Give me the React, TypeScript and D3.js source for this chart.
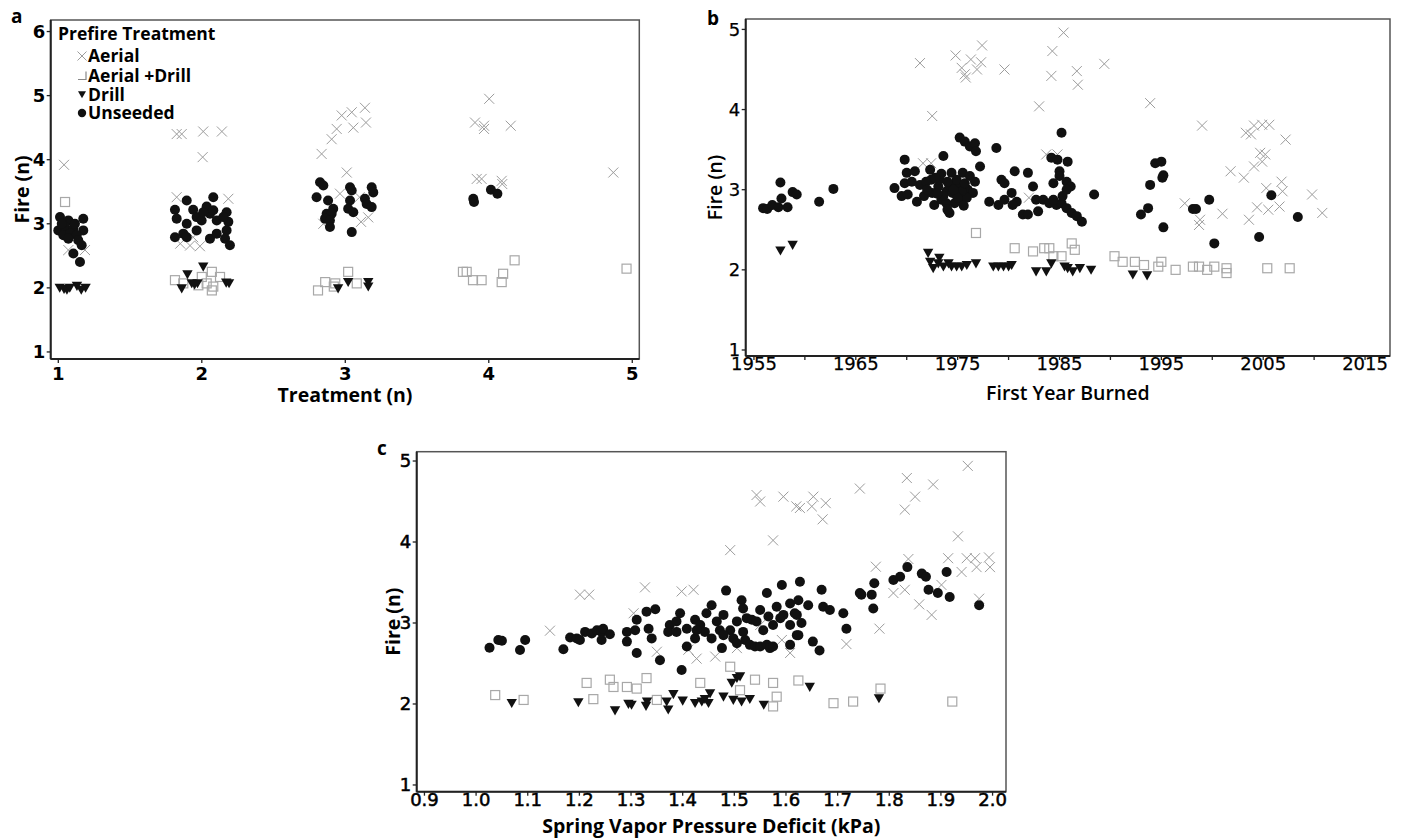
import React from 'react';
import * as d3 from 'd3';

type P = [number, number];

// ---------------- Panel a : Treatment (n) ----------------
const aAerial: P[] = [
  [1.04,3.92],[1.07,2.59],[1.186,2.59],
  [1.825,4.40],[1.86,4.40],[2.01,4.44],[2.14,4.44],[2.006,4.04],[1.825,3.415],[2.185,3.39],[1.85,2.69],[1.918,2.66],[1.987,2.65],[1.94,2.79],
  [2.835,4.09],[2.905,4.32],[2.94,4.48],[2.975,4.69],[3.045,4.74],[3.056,4.50],[3.137,4.81],[3.144,4.58],[3.01,3.80],[2.963,3.47],[3.10,3.415],[3.11,3.03],[3.16,3.10],[2.847,3.0],
  [4.003,4.95],[3.904,4.58],[3.967,4.53],[3.967,4.48],[4.153,4.53],[3.916,3.70],[3.95,3.70],[4.09,3.67],[4.094,3.62],
  [4.868,3.80],
];
const aAerialDrill: P[] = [
  [1.047,3.34],
  [1.813,2.12],[1.871,2.07],[2.0,2.17],[2.07,2.25],[2.034,2.07],[2.08,2.02],[2.07,1.96],[1.976,2.04],[2.127,2.17],
  [2.81,1.96],[2.86,2.09],[2.93,2.07],[3.02,2.25],[3.08,2.07],[2.92,2.02],
  [3.82,2.25],[3.846,2.25],[3.95,2.12],[4.10,2.22],[4.09,2.09],[4.18,2.43],[3.89,2.12],
  [4.96,2.30],
];
const aDrill: P[] = [
  [1.01,2.0],[1.04,1.98],[1.06,1.97],[1.08,2.0],[1.13,2.03],[1.16,1.97],[1.19,2.0],
  [1.90,2.21],[2.01,2.33],[1.86,1.99],[1.93,2.07],[1.97,2.07],[2.17,2.08],[2.19,2.07],[1.95,2.05],
  [2.95,1.99],[3.02,2.09],[3.16,2.09],[3.16,2.02],
];
const aUnseeded: P[] = [
  [1.012,3.104],[1.174,3.079],[1.07,3.053],[1.0,2.897],[1.047,2.949],[1.105,2.924],[1.174,2.897],[1.035,2.82],[1.082,2.846],[1.128,2.82],[1.07,2.768],[1.139,2.742],[1.163,2.664],[1.105,2.535],[1.151,2.404],[1.024,3.0],[1.116,3.0],
  [1.895,3.364],[2.08,3.415],[1.813,3.22],[1.94,3.22],[2.034,3.27],[1.825,3.08],[1.964,3.104],[2.057,3.157],[2.173,3.18],[1.895,3.0],[1.999,3.05],[2.104,3.05],[2.185,3.03],[1.871,2.846],[1.964,2.897],[2.173,2.897],[1.813,2.79],[1.895,2.79],[2.057,2.768],[2.104,2.846],[2.162,2.768],[2.196,2.664],[2.15,3.104],[2.01,3.18],[2.08,3.21],
  [2.824,3.649],[2.847,3.597],[3.033,3.571],[3.045,3.52],[3.184,3.571],[3.195,3.49],[2.80,3.415],[2.88,3.364],[3.033,3.364],[3.137,3.39],[3.149,3.31],[3.184,3.26],[2.916,3.235],[3.02,3.235],[2.87,3.157],[2.905,3.157],[3.056,3.18],[2.859,3.08],[2.893,3.05],[2.893,2.95],[3.045,2.87],
  [3.892,3.39],[3.897,3.34],[4.015,3.53],[4.06,3.47],
];
const aXTicks = [1, 2, 3, 4, 5];
const aYTicks = [1, 2, 3, 4, 5, 6];
const legendTitle = 'Prefire Treatment';
const legendLabels = ['Aerial', 'Aerial +Drill', 'Drill', 'Unseeded'];

// ---------------- Panel b : First Year Burned ----------------
const bAerial: P[] = [
  [1971.3,4.58],[1974.8,4.675],[1975.4,4.52],[1975.7,4.44],[1975.8,4.40],[1976.3,4.625],[1976.9,4.50],[1977.3,4.59],[1977.4,4.80],[1979.6,4.50],[1972.5,3.92],[1971.6,3.33],[1972.4,3.33],
  [1985.4,4.96],[1984.3,4.73],[1984.2,4.42],[1986.7,4.48],[1986.8,4.31],[1989.4,4.57],[1983.0,4.04],[1993.9,4.08],[1999.0,3.80],[2003.3,3.71],[2003.8,3.69],[2004.1,3.80],[2004.9,3.81],[2005.6,3.81],[2007.2,3.625],[2004.7,3.46],[2005.2,3.44],[2004.9,3.35],[2004.1,3.29],[2001.8,3.23],[2003.1,3.15],[2005.3,3.02],[2006.8,3.10],[2006.9,2.98],[2009.8,2.94],[2010.8,2.71],[2006.6,2.79],[2005.5,2.75],[2004.4,2.78],[2003.6,2.625],[2001.0,2.70],[1998.8,2.625],[1998.7,2.56],[1997.3,2.83],[1983.7,3.44],[1984.8,3.44],[1982.0,2.90],
];
const bAerialDrill: P[] = [
  [1976.8,2.46],[1980.6,2.27],[1982.4,2.23],[1983.5,2.27],[1984.0,2.27],[1984.4,2.17],[1985.2,2.17],[1986.2,2.33],[1986.5,2.25],[1990.4,2.17],[1991.2,2.10],[1992.4,2.10],[1993.3,2.06],[1995.0,2.10],[1994.7,2.04],[1996.4,2.0],[1998.1,2.04],[1998.7,2.04],[1999.5,2.0],[2000.2,2.04],[2001.4,2.02],[2001.4,1.96],[2005.4,2.02],[2007.6,2.02],
];
const bDrill: P[] = [
  [1957.6,2.24],[1958.8,2.31],
  [1972.1,2.21],[1972.3,2.10],[1972.6,2.02],[1973.1,2.08],[1973.2,2.15],[1973.6,2.04],[1974.1,2.08],[1974.4,2.04],[1974.9,2.04],[1975.4,2.04],[1975.9,2.06],[1976.8,2.08],[1978.5,2.04],[1979.0,2.04],[1979.5,2.04],[1980.0,2.04],[1980.3,2.06],[1982.7,1.98],[1983.7,1.98],[1984.2,2.08],[1985.5,2.04],[1985.8,2.02],[1986.3,1.98],[1987.0,2.02],[1988.1,2.0],[1992.2,1.94],[1993.6,1.93],
];
const bUnseeded: P[] = [
  [1955.9,2.77],[1956.3,2.76],[1956.8,2.81],[1957.4,2.78],[1957.7,2.89],[1957.6,3.09],[1958.3,2.78],[1958.8,2.97],[1959.2,2.94],[1961.4,2.85],[1962.8,3.01],
  [1968.8,3.02],[1969.8,3.375],[1970.0,3.21],[1970.8,3.23],[1969.8,3.08],[1969.5,2.92],[1970.1,2.94],[1971.3,3.06],[1971.7,2.92],[1972.3,3.25],[1972.4,3.125],[1973.6,3.42],[1973.1,3.04],[1972.7,2.81],[1973.4,2.875],[1973.9,2.98],[1974.4,3.21],[1974.2,2.71],[1974.7,2.83],[1975.2,2.875],[1975.0,3.04],[1975.5,3.21],[1975.2,3.65],[1975.7,3.60],[1976.2,3.54],[1976.7,3.58],[1976.8,3.48],[1977.2,3.29],[1976.2,3.17],[1976.0,3.0],[1976.7,3.10],[1976.5,2.96],[1975.9,2.90],[1978.8,3.52],[1973.2,3.125],[1973.9,2.83],[1974.5,2.96],[1972.5,2.96],[1971.9,3.10],[1974.2,3.06],[1974.9,3.125],[1973.6,2.92],[1975.4,2.98],[1975.7,3.08],
  [1972.0,3.0],[1973.0,2.95],[1974.0,3.1],[1975.0,2.9],[1974.6,3.0],[1973.4,3.2],[1974.0,2.75],[1972.8,3.15],[1975.6,2.8],[1971.0,2.85],[1970.5,3.1],
  [1978.1,2.85],[1979.0,2.81],[1979.6,2.875],[1979.3,3.125],[1979.6,3.08],[1980.6,3.23],[1980.3,2.96],[1980.8,2.85],[1980.4,2.81],[1981.4,2.69],[1981.9,2.69],[1981.9,3.21],[1982.4,3.04],[1982.7,2.875],[1982.9,2.73],[1983.4,2.875],[1984.0,2.83],[1984.7,2.81],[1985.2,2.83],[1985.7,2.77],[1986.2,2.71],[1986.7,2.67],[1987.2,2.60],[1984.4,2.875],[1985.2,3.71],[1984.2,3.40],[1984.8,3.375],[1985.8,3.35],[1985.0,3.23],[1985.0,3.17],[1984.4,3.08],[1985.7,3.10],[1986.1,3.04],[1985.7,3.0],[1988.4,2.94],[1985.3,2.92],
  [1993.0,2.69],[1993.7,2.77],[1993.9,3.06],[1994.4,3.33],[1995.0,3.35],[1995.1,3.15],[1995.2,3.18],[1995.2,2.53],[1998.1,2.76],[1998.4,2.76],[1999.7,2.875],[2000.2,2.33],[2004.6,2.41],[2005.8,2.93],[2008.4,2.66],
];
const bXTicks = [1955, 1965, 1975, 1985, 1995, 2005, 2015];
const bXMinor = [1960, 1970, 1980, 1990, 2000, 2010];
const bYTicks = [1, 2, 3, 4, 5];

// ---------------- Panel c : Spring Vapor Pressure Deficit ----------------
const cAerial: P[] = [
  [1.143,2.905],[1.201,3.35],[1.219,3.35],[1.327,3.44],[1.305,3.12],[1.35,2.645],[1.398,3.39],[1.421,3.41],[1.427,2.56],[1.411,2.67],[1.463,2.585],[1.492,3.90],[1.543,4.58],[1.55,4.50],[1.595,4.56],[1.575,4.02],[1.62,4.44],[1.505,2.69],[1.592,2.79],[1.608,2.63],[1.55,2.975],
  [1.627,4.42],[1.65,4.44],[1.653,4.56],[1.677,4.48],[1.671,4.28],[1.743,4.66],[1.834,4.79],[1.885,4.71],[1.85,4.56],[1.83,4.40],[1.952,4.94],[1.933,4.07],[1.774,3.695],[1.837,3.79],[1.914,3.80],[1.95,3.80],[1.966,3.80],[1.993,3.81],[1.94,3.63],[1.969,3.69],[1.995,3.69],[1.808,3.37],[1.83,3.41],[1.858,3.23],[1.882,3.10],[1.901,3.47],[1.974,3.30],[1.781,2.93],[1.717,2.74],
];
const cAerialDrill: P[] = [
  [1.037,2.11],[1.092,2.05],[1.214,2.26],[1.227,2.06],[1.259,2.30],[1.266,2.21],[1.292,2.21],[1.311,2.19],[1.33,2.32],[1.35,2.05],[1.434,2.26],[1.492,2.46],[1.511,2.17],[1.54,2.30],[1.575,2.26],[1.582,2.09],[1.575,1.97],[1.624,2.29],[1.692,2.01],[1.73,2.03],[1.783,2.19],[1.922,2.03],
];
const cDrill: P[] = [
  [1.069,2.01],[1.198,2.02],[1.269,1.92],[1.295,2.0],[1.301,1.99],[1.329,1.975],[1.331,2.03],[1.369,2.03],[1.372,1.93],[1.382,2.12],[1.40,2.04],[1.424,2.01],[1.437,2.03],[1.443,2.06],[1.45,2.01],[1.453,2.13],[1.479,2.09],[1.495,2.26],[1.505,2.32],[1.511,2.34],[1.498,2.05],[1.514,2.03],[1.53,2.06],[1.557,1.99],[1.646,2.21],[1.78,2.07],
];
const cUnseeded: P[] = [
  [1.026,2.695],[1.043,2.79],[1.05,2.78],[1.085,2.667],[1.095,2.79],
  [1.169,2.675],[1.182,2.82],[1.195,2.81],[1.201,2.79],[1.211,2.89],[1.224,2.87],[1.234,2.91],[1.243,2.89],[1.246,2.93],[1.243,2.79],[1.259,2.86],[1.292,2.89],[1.292,2.77],[1.311,3.04],[1.308,2.91],[1.33,3.14],[1.347,3.17],[1.334,2.93],[1.34,2.81],[1.311,2.63],[1.356,2.54],[1.375,2.975],[1.372,2.89],[1.395,3.12],[1.388,3.02],[1.408,2.93],[1.408,2.71],[1.398,2.42],[1.424,3.04],[1.434,2.975],[1.424,2.81],[1.446,3.12],[1.456,3.22],[1.443,2.89],[1.456,2.81],[1.466,3.02],[1.476,2.69],[1.479,3.10],[1.484,3.40],[1.492,2.91],[1.505,3.02],[1.514,3.28],[1.517,3.18],[1.524,3.06],[1.517,2.89],[1.521,2.79],[1.534,3.04],[1.53,2.73],[1.54,2.71],[1.55,3.16],[1.556,2.91],[1.563,3.37],[1.566,3.08],[1.575,2.975],[1.582,3.20],[1.592,3.47],[1.589,3.06],[1.608,3.24],[1.624,3.28],[1.627,3.51],[1.621,3.10],[1.608,2.975],[1.55,2.71],[1.563,2.73],[1.569,2.69],[1.575,2.71],[1.608,2.73],[1.624,2.85],[1.498,2.81],[1.505,2.75],[1.427,2.91],[1.472,2.91],[1.543,3.02],[1.479,2.85],[1.388,2.89],
  [1.669,3.41],[1.595,3.10],[1.643,3.22],[1.672,3.20],[1.685,3.16],[1.711,3.12],[1.717,2.93],[1.617,3.12],[1.63,3.0],[1.621,2.85],[1.743,3.37],[1.746,3.35],[1.766,3.35],[1.771,3.49],[1.769,3.18],[1.808,3.53],[1.821,3.57],[1.835,3.69],[1.863,3.61],[1.871,3.57],[1.876,3.41],[1.894,3.37],[1.911,3.63],[1.917,3.32],[1.974,3.22],[1.652,2.77],[1.665,2.66],
];
const cXTicks = [0.9, 1.0, 1.1, 1.2, 1.3, 1.4, 1.5, 1.6, 1.7, 1.8, 1.9, 2.0];
const cYTicks = [1, 2, 3, 4, 5];

// ---------------- drawing ----------------
const SANS = '"Open Sans", "DejaVu Sans", sans-serif';
const NUM = '"DejaVu Sans", sans-serif';
const GREY_X = '#9c9c9c';
const GREY_SQ = '#a8a8a8';
const INK = '#111';

const Cross = ({ x, y, s = 5 }: { x: number; y: number; s?: number }) => (
  <path d={`M${x - s},${y - s}L${x + s},${y + s}M${x - s},${y + s}L${x + s},${y - s}`} stroke={GREY_X} strokeWidth={1} fill="none" />
);
const Square = ({ x, y, s = 4.5 }: { x: number; y: number; s?: number }) => (
  <rect x={x - s} y={y - s} width={2 * s} height={2 * s} fill="none" stroke={GREY_SQ} strokeWidth={1.2} />
);
const Tri = ({ x, y, s = 5.2 }: { x: number; y: number; s?: number }) => (
  <path d={`M${x - s},${y - s * 0.8}L${x + s},${y - s * 0.8}L${x},${y + s * 0.95}Z`} fill={INK} />
);
const Dot = ({ x, y, r = 5 }: { x: number; y: number; r?: number }) => <circle cx={x} cy={y} r={r} fill={INK} />;

type Weight = 'bold' | 'semi' | 'normal';

interface PanelProps {
  letter: string;
  letterPos: [number, number];
  box: [number, number, number, number]; // left, top, right, bottom
  xDomain: [number, number];
  yDomain: [number, number];
  xTicks: number[];
  xMinor?: number[];
  yTicks: number[];
  xFormat: (v: number) => string;
  xTitle: string;
  xTitlePos: number;
  yTitlePos: number;
  xLabelGap: number;
  tickWeight: Weight;
  titleBold: boolean;
  aerial: P[];
  aerialDrill: P[];
  drill: P[];
  unseeded: P[];
}

const tickProps = (w: Weight) =>
  w === 'bold'
    ? { fontWeight: 'bold' as const }
    : w === 'semi'
    ? { fontWeight: 'normal' as const, stroke: '#000', strokeWidth: 0.55 }
    : { fontWeight: 'normal' as const, stroke: '#000', strokeWidth: 0.25 };

const Panel = (p: PanelProps) => {
  const [L, T, R, B] = p.box;
  const x = d3.scaleLinear().domain(p.xDomain).range([L, R]);
  const y = d3.scaleLinear().domain(p.yDomain).range([B, T]);
  const tp = tickProps(p.tickWeight);
  const tw = p.titleBold ? 'bold' : 600;
  return (
    <g>
      <text x={p.letterPos[0]} y={p.letterPos[1]} fontFamily={SANS} fontWeight="bold" fontSize={19} fill="#000">{p.letter}</text>
      <rect x={L} y={T} width={R - L} height={B - T} fill="#fff" stroke="#555" strokeWidth={1.5} />
      {p.aerial.map((d, i) => <Cross key={'x' + i} x={x(d[0])} y={y(d[1])} />)}
      {p.aerialDrill.map((d, i) => <Square key={'s' + i} x={x(d[0])} y={y(d[1])} />)}
      {p.drill.map((d, i) => <Tri key={'t' + i} x={x(d[0])} y={y(d[1])} />)}
      {p.unseeded.map((d, i) => <Dot key={'c' + i} x={x(d[0])} y={y(d[1])} />)}
      <line x1={L} x2={R} y1={B} y2={B} stroke="#222" strokeWidth={2} />
      <line x1={L} x2={L} y1={T} y2={B} stroke="#222" strokeWidth={2} />
      {p.xTicks.map((t) => (
        <g key={'xt' + t}>
          <line x1={x(t)} x2={x(t)} y1={B} y2={B + 4} stroke="#222" strokeWidth={1.3} />
          <text x={x(t)} y={B + p.xLabelGap} textAnchor="middle" fontFamily={NUM} fontSize={18} fill="#000" {...tp}>{p.xFormat(t)}</text>
        </g>
      ))}
      {(p.xMinor || []).map((t) => (
        <line key={'xm' + t} x1={x(t)} x2={x(t)} y1={B} y2={B + 4} stroke="#222" strokeWidth={1.3} />
      ))}
      {p.yTicks.map((t) => (
        <g key={'yt' + t}>
          <line x1={L - 4} x2={L} y1={y(t)} y2={y(t)} stroke="#222" strokeWidth={1.3} />
          <text x={L - 5.5} y={y(t)} dy="0.36em" textAnchor="end" fontFamily={NUM} fontSize={18} fill="#000" {...tp}>{t}</text>
        </g>
      ))}
      <text x={(L + R) / 2} y={p.xTitlePos} textAnchor="middle" fontFamily={SANS} fontWeight={tw} fontSize={19.5} fill="#000">{p.xTitle}</text>
      <text transform={`translate(${p.yTitlePos},${(T + B) / 2}) rotate(-90)`} textAnchor="middle" fontFamily={SANS} fontWeight={tw} fontSize={19.5} fill="#000">Fire (n)</text>
    </g>
  );
};

const Legend = () => {
  const x0 = 82;
  const rows = [62, 81.5, 100.5, 119];
  return (
    <g fontFamily={SANS} fontWeight="bold" fontSize={17.5} fill="#000">
      <text x={58} y={40}>{legendTitle}</text>
      {legendLabels.map((lab, i) => (
        <g key={lab}>
          {i === 0 && <Cross x={x0} y={rows[i] - 6} s={4.5} />}
          {i === 1 && <path d={`M${x0 - 4},${rows[i] - 2}L${x0 + 4},${rows[i] - 2}L${x0 + 4},${rows[i] - 10}`} fill="none" stroke={'#888'} strokeWidth={1.2} />}
          {i === 2 && <Tri x={x0} y={rows[i] - 6} s={4} />}
          {i === 3 && <Dot x={x0} y={rows[i] - 6} r={4.2} />}
          <text x={88} y={rows[i]}>{lab}</text>
        </g>
      ))}
    </g>
  );
};

export default function App() {
  return (
    <svg width={1407} height={839} style={{ position: 'absolute', left: 0, top: 0, display: 'block', background: '#fff' }}>
      <rect x={0} y={0} width={1407} height={839} fill="#fff" />
      <Panel
        letter="a" letterPos={[11, 23]}
        box={[50.7, 20, 639.3, 359]}
        xDomain={[0.947, 5.049]} yDomain={[0.89, 6.18]}
        xTicks={aXTicks} yTicks={aYTicks} xFormat={(v) => String(v)}
        xTitle="Treatment (n)" xTitlePos={402} yTitlePos={29} xLabelGap={21} tickWeight="bold" titleBold={true}
        aerial={aAerial} aerialDrill={aAerialDrill} drill={aDrill} unseeded={aUnseeded}
      />
      <Legend />
      <Panel
        letter="b" letterPos={[707, 25]}
        box={[745.7, 19, 1390, 356]}
        xDomain={[1954.19, 2017.45]} yDomain={[0.925, 5.13]}
        xTicks={bXTicks} xMinor={bXMinor} yTicks={bYTicks} xFormat={(v) => String(v)}
        xTitle="First Year Burned" xTitlePos={400} yTitlePos={722} xLabelGap={14} tickWeight="normal" titleBold={false}
        aerial={bAerial} aerialDrill={bAerialDrill} drill={bDrill} unseeded={bUnseeded}
      />
      <Panel
        letter="c" letterPos={[377, 455]}
        box={[416.7, 451.7, 1006, 791.7]}
        xDomain={[0.885, 2.026]} yDomain={[0.917, 5.115]}
        xTicks={cXTicks} yTicks={cYTicks} xFormat={(v) => v.toFixed(1)}
        xTitle="Spring Vapor Pressure Deficit (kPa)" xTitlePos={833} yTitlePos={400} xLabelGap={14} tickWeight="semi" titleBold={true}
        aerial={cAerial} aerialDrill={cAerialDrill} drill={cDrill} unseeded={cUnseeded}
      />
    </svg>
  );
}
